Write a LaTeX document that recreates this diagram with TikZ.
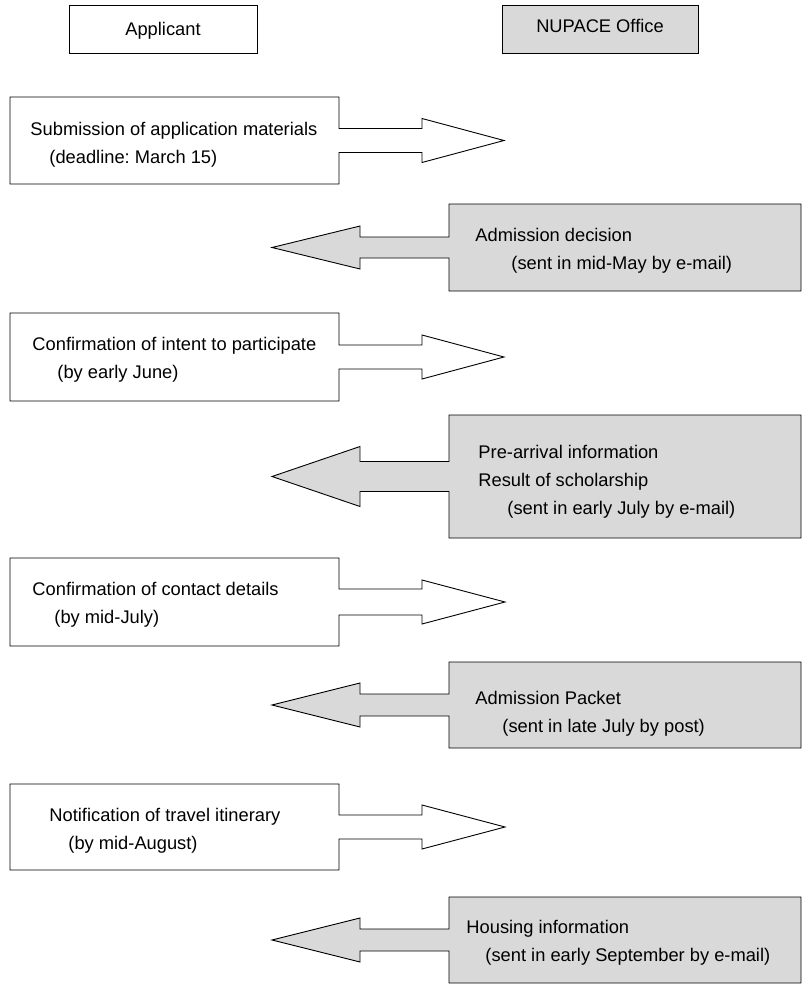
\documentclass[tikz,border=0pt]{standalone}
\usepackage{fontspec}
\setmainfont{Liberation Sans}
\frenchspacing
\begin{document}
\begin{tikzpicture}[x=1bp, y=-1bp, line width=0.9bp,
    office/.style={fill=black!15},
    hdrtxt/.style={inner sep=0pt, font=\fontsize{18.3bp}{28bp}\selectfont},
    txt/.style={anchor=west, align=left, inner sep=0pt, font=\fontsize{18.3bp}{28bp}\selectfont}]

\useasboundingbox (0,0) rectangle (805,985);

% HEADERS
\draw (69,5) rectangle (257,53);
\draw [office] (502,5) rectangle (698,53);
\node (applicant) [hdrtxt] at (163,31) {Applicant};
\node (nupace) [hdrtxt] at (600,26) {NUPACE Office};

% APPLICANT BOXES (arrow to the right)
\draw (10,97) -- (339,97) -- (339,128.5) -- (422,128.5) -- (422,118.5) -- (504,140.5) -- (422,162.5) -- (422,152.5) -- (339,152.5) -- (339,184) -- (10,184) -- cycle;
\draw (10,313) -- (339,313) -- (339,345) -- (422,345) -- (422,335) -- (504,357) -- (422,379) -- (422,369) -- (339,369) -- (339,401) -- (10,401) -- cycle;
\draw (10,558) -- (339,558) -- (339,589) -- (422,589) -- (422,580) -- (505,602) -- (422,624) -- (422,615) -- (339,615) -- (339,646) -- (10,646) -- cycle;
\draw (10,784) -- (339,784) -- (339,815) -- (422,815) -- (422,805) -- (505,827) -- (422,849) -- (422,839) -- (339,839) -- (339,870) -- (10,870) -- cycle;

% OFFICE BOXES (arrow to the left)
\draw [office] (801,204) -- (449,204) -- (449,237) -- (360,237) -- (360,226) -- (272,247.5) -- (360,269) -- (360,258) -- (449,258) -- (449,291) -- (801,291) -- cycle;
\draw [office] (801,415) -- (449,415) -- (449,461.5) -- (360,461.5) -- (360,446.5) -- (272,476.5) -- (360,506.5) -- (360,491.5) -- (449,491.5) -- (449,538) -- (801,538) -- cycle;
\draw [office] (801,662) -- (449,662) -- (449,694) -- (360,694) -- (360,683) -- (272,705) -- (360,727) -- (360,716) -- (449,716) -- (449,748) -- (801,748) -- cycle;
\draw [office] (801,897) -- (449,897) -- (449,929) -- (360,929) -- (360,918) -- (272,940) -- (360,962) -- (360,951) -- (449,951) -- (449,983) -- (801,983) -- cycle;

% TEXTS
\node (submission) [txt] at (30,144.5) {Submission of application materials\\\hspace*{19bp}(deadline: March 15)};
\node (decision) [txt] at (475,251) {Admission decision\\\hspace*{36bp}(sent in mid-May by e-mail)};
\node (intent) [txt] at (32,359.5) {Confirmation of intent to participate\\\hspace*{25bp}(by early June)};
\node (prearrival) [txt] at (478,482) {Pre-arrival information\\Result of scholarship\\\hspace*{29bp}(sent in early July by e-mail)};
\node (contact) [txt] at (32,604.5) {Confirmation of contact details\\\hspace*{22bp}(by mid-July)};
\node (packet) [txt] at (475,713.5) {Admission Packet\\\hspace*{27bp}(sent in late July by post)};
\node (travel) [txt] at (49,830.5) {Notification of travel itinerary\\\hspace*{19bp}(by mid-August)};
\node (housing) [txt] at (466,943) {Housing information\\\hspace*{19bp}(sent in early September by e-mail)};

\end{tikzpicture}
\end{document}
